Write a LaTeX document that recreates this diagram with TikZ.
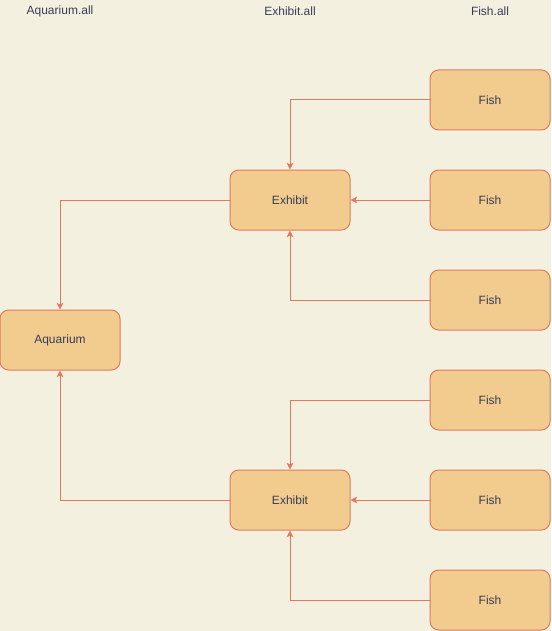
\documentclass[tikz,border=0pt]{standalone}
\usepackage{fontspec}
\setmainfont{Liberation Sans}
\usetikzlibrary{arrows.meta, positioning}
\definecolor{bgcol}{HTML}{F4F0DF}
\definecolor{boxfill}{HTML}{F2CC8F}
\definecolor{boxline}{HTML}{E07A5F}
\definecolor{txtcol}{HTML}{393C56}
\begin{document}
\begin{tikzpicture}[
        x=0.75pt,y=-0.75pt,on grid,node distance=75pt,
        >={Stealth[length=5pt,width=5pt,inset=1.2pt]},
        every node/.style={font=\fontsize{9}{11}\selectfont, text=txtcol},
        obj/.style={draw=boxline, fill=boxfill, line width=0.75pt, rounded corners=6.5pt,
          minimum width=90pt, minimum height=45pt, inner sep=0pt},
        link/.style={->, draw=boxline, line width=0.75pt},
        ]
        \fill[bgcol] (0,0) rectangle (551,631);
        \useasboundingbox (0,0) rectangle (551,631);

        \node (h_aq) at (60,11)  {Aquarium.all};
        \node (h_ex) at (290,11) {Exhibit.all};
        \node (h_fi) at (490,11) {Fish.all};

        \node[obj]  (aq)   at (60,340)                      {Aquarium};
        \node[obj]  (ex_1) [above right=105pt and 172.5pt of aq] {Exhibit};
        \node[obj]  (ex_2) [below right=120pt and 172.5pt of aq] {Exhibit};
        \node[obj]  (f_2)  [right=150pt of ex_1]            {Fish};
        \node[obj]  (f_1)  [above=of f_2]                   {Fish};
        \node[obj]  (f_3)  [below=of f_2]                   {Fish};
        \node[obj]  (f_5)  [right=150pt of ex_2]            {Fish};
        \node[obj]  (f_4)  [above=of f_5]                   {Fish};
        \node[obj]  (f_6)  [below=of f_5]                   {Fish};

        \draw[link] (f_1.west) -| (ex_1.north);
        \draw[link] (f_2.west) -- (ex_1.east);
        \draw[link] (f_3.west) -| (ex_1.south);
        \draw[link] (f_4.west) -| (ex_2.north);
        \draw[link] (f_5.west) -- (ex_2.east);
        \draw[link] (f_6.west) -| (ex_2.south);
        \draw[link] (ex_1.west) -| (aq.north);
        \draw[link] (ex_2.west) -| (aq.south);
      \end{tikzpicture}
\end{document}
